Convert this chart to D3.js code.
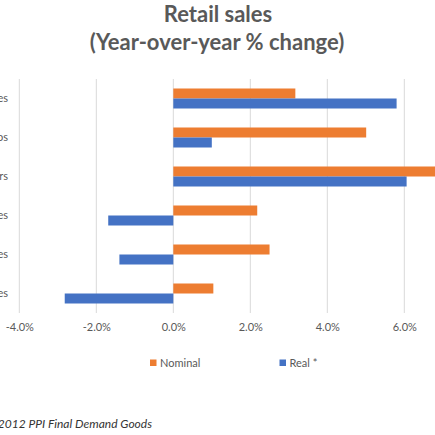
<!DOCTYPE html>
<html>
<head>
<meta charset="utf-8">
<script src="https://cdn.jsdelivr.net/npm/d3@7"></script>
<style>
  body { margin: 0; background: #fff; }
  svg { display: block; font-family: Lato, "Open Sans", sans-serif; }
</style>
</head>
<body>
<svg id="chart" width="435" height="435"></svg>
<script>
// categories, top to bottom
const categories = [
  "Total retail sales",
  "Retail sales ex autos",
  "Motor vehicle & parts dealers",
  "Building materials & garden supplies",
  "Food & beverage stores",
  "General merchandise stores"
];
const seriesNames = ["Nominal", "Real *"];
const nominal = [3.17, 5.01, 7.0, 2.18, 2.5, 1.04];
const real = [5.8, 1.0, 6.06, -1.69, -1.4, -2.82];
const xTicks = [-4, -2, 0, 2, 4, 6, 8];

const colors = {"Nominal": "#ED7D31", "Real *": "#4472C4"};

const svg = d3.select("#chart");

// title
const title = svg.append("g")
  .attr("fill", "#595959")
  .attr("font-weight", "bold")
  .attr("font-size", 22)
  .attr("text-anchor", "middle");
title.append("text").attr("x", 218).attr("y", 22).text("Retail sales");
title.append("text").attr("x", 217).attr("y", 50).text("(Year-over-year % change)");

const x = d3.scaleLinear()
  .domain([-4, 8])
  .range([19.3, 481.3]);

const y0 = d3.scaleBand()
  .domain(categories)
  .range([79, 313])
  .padding(0);

const y1 = d3.scaleBand()
  .domain(seriesNames)
  .range([0, y0.bandwidth()])
  .paddingInner(0)
  .paddingOuter(0.95);

// gridlines
svg.append("g")
  .selectAll("line")
  .data(xTicks)
  .enter()
  .append("line")
  .attr("x1", d => x(d))
  .attr("x2", d => x(d))
  .attr("y1", 79)
  .attr("y2", 313)
  .attr("stroke", "#d9d9d9")
  .attr("stroke-width", 1);

// bars
const rows = categories.map((c, i) => ({
  cat: c,
  values: [
    {name: "Nominal", value: nominal[i]},
    {name: "Real *", value: real[i]}
  ]
}));

svg.append("g")
  .selectAll("g")
  .data(rows)
  .enter()
  .append("g")
  .attr("transform", d => `translate(0,${y0(d.cat)})`)
  .selectAll("rect")
  .data(d => d.values)
  .enter()
  .append("rect")
  .attr("x", d => Math.min(x(d.value), x(0)))
  .attr("y", d => y1(d.name))
  .attr("width", d => Math.abs(x(d.value) - x(0)))
  .attr("height", y1.bandwidth())
  .attr("fill", d => colors[d.name]);

// category labels (cut off on the left like the reference)
svg.append("g")
  .selectAll("text")
  .data(categories)
  .enter()
  .append("text")
  .attr("x", 8)
  .attr("y", d => y0(d) + y0.bandwidth() / 2)
  .attr("dy", "0.35em")
  .attr("text-anchor", "end")
  .attr("font-size", 11)
  .attr("fill", "#595959")
  .text(d => d);

// x axis labels
const xAxis = svg.append("g")
  .attr("transform", "translate(0,320)")
  .call(d3.axisBottom(x).tickValues(xTicks).tickSize(0).tickFormat(d => d.toFixed(1) + "%"));
xAxis.select(".domain").remove();
xAxis.selectAll("text")
  .attr("font-family", "Lato, 'Open Sans', sans-serif")
  .attr("font-size", 11)
  .attr("fill", "#595959");

// legend
const legend = svg.append("g")
  .selectAll("g")
  .data(seriesNames)
  .enter()
  .append("g")
  .attr("transform", (d, i) => `translate(${i === 0 ? 150 : 279.5},363)`);
legend.append("rect")
  .attr("x", 0)
  .attr("y", -3.5)
  .attr("width", 6.5)
  .attr("height", 6.5)
  .attr("fill", d => colors[d]);
legend.append("text")
  .attr("x", 10)
  .attr("y", 0)
  .attr("dy", "0.35em")
  .attr("font-size", 11)
  .attr("fill", "#595959")
  .text(d => d);

// footnote (also cut off on the left)
svg.append("text")
  .attr("x", 152)
  .attr("y", 428)
  .attr("text-anchor", "end")
  .attr("font-size", 12)
  .attr("font-style", "italic")
  .attr("fill", "#333")
  .text("* Deflated using 2012 PPI Final Demand Goods");
</script>
</body>
</html>
